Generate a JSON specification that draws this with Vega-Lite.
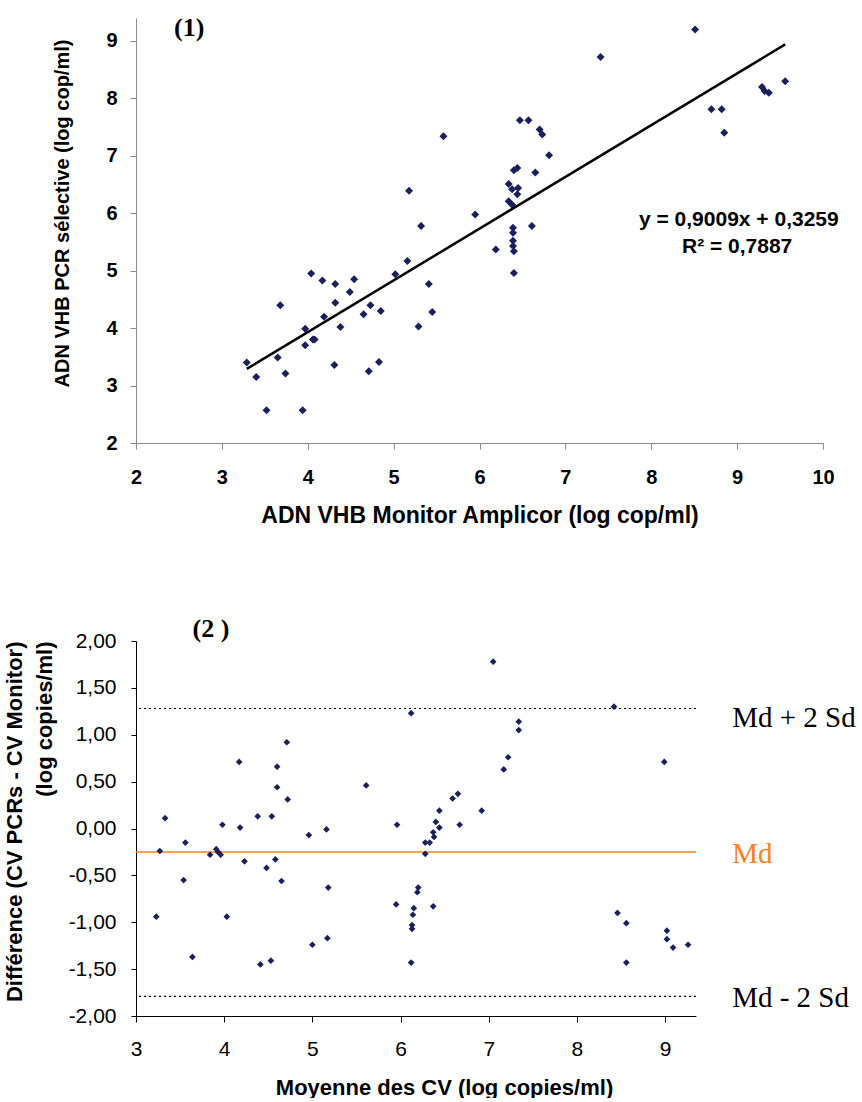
{
  "$schema": "https://vega.github.io/schema/vega-lite/v6.json",
  "background": "white",
  "padding": {"left": 3, "top": 14, "right": 0, "bottom": 0},
  "spacing": 88,
  "config": {
    "view": {"stroke": null},
    "axis": {"grid": false, "labelColor": "black", "titleColor": "black", "labelFont": "Liberation Sans", "titleFont": "Liberation Sans", "labelOverlap": false, "labelBound": false}
  },
  "datasets": {
    "corr": [
      {"x": 3.29, "y": 3.40}, {"x": 3.40, "y": 3.15}, {"x": 3.52, "y": 2.57}, {"x": 3.68, "y": 4.40}, {"x": 3.65, "y": 3.49},
      {"x": 3.74, "y": 3.21}, {"x": 3.94, "y": 2.57}, {"x": 3.97, "y": 3.99}, {"x": 3.97, "y": 3.70}, {"x": 4.04, "y": 4.95},
      {"x": 4.06, "y": 3.80}, {"x": 4.08, "y": 3.80}, {"x": 4.17, "y": 4.83}, {"x": 4.19, "y": 4.20}, {"x": 4.31, "y": 3.36},
      {"x": 4.32, "y": 4.77}, {"x": 4.32, "y": 4.44}, {"x": 4.38, "y": 4.02}, {"x": 4.49, "y": 4.63}, {"x": 4.54, "y": 4.85},
      {"x": 4.65, "y": 4.24}, {"x": 4.71, "y": 3.25}, {"x": 4.73, "y": 4.40}, {"x": 4.83, "y": 3.41}, {"x": 4.85, "y": 4.30},
      {"x": 5.02, "y": 4.94}, {"x": 5.16, "y": 5.17}, {"x": 5.18, "y": 6.39}, {"x": 5.32, "y": 5.78}, {"x": 5.29, "y": 4.03},
      {"x": 5.41, "y": 4.77}, {"x": 5.45, "y": 4.28}, {"x": 5.58, "y": 7.34}, {"x": 5.95, "y": 5.98}, {"x": 6.19, "y": 5.37},
      {"x": 6.40, "y": 4.96}, {"x": 6.39, "y": 5.75}, {"x": 6.39, "y": 5.66}, {"x": 6.39, "y": 5.52}, {"x": 6.39, "y": 5.43},
      {"x": 6.40, "y": 5.34}, {"x": 6.61, "y": 5.78}, {"x": 6.34, "y": 6.51}, {"x": 6.38, "y": 6.42}, {"x": 6.45, "y": 6.44},
      {"x": 6.44, "y": 6.33}, {"x": 6.34, "y": 6.21}, {"x": 6.38, "y": 6.15}, {"x": 6.40, "y": 6.75}, {"x": 6.44, "y": 6.79},
      {"x": 6.65, "y": 6.71}, {"x": 6.47, "y": 7.62}, {"x": 6.57, "y": 7.62}, {"x": 6.70, "y": 7.46}, {"x": 6.73, "y": 7.37},
      {"x": 6.81, "y": 7.01}, {"x": 7.41, "y": 8.72}, {"x": 8.51, "y": 9.20}, {"x": 8.70, "y": 7.81}, {"x": 8.82, "y": 7.81},
      {"x": 8.85, "y": 7.40}, {"x": 9.29, "y": 8.20}, {"x": 9.32, "y": 8.13}, {"x": 9.37, "y": 8.10}, {"x": 9.56, "y": 8.30}
    ],
    "fit": [{"x": 3.29, "y": 3.29}, {"x": 9.56, "y": 8.94}],
    "diff": [
      {"x": 3.23, "y": -0.94}, {"x": 3.27, "y": -0.24}, {"x": 3.33, "y": 0.11}, {"x": 3.54, "y": -0.55}, {"x": 3.56, "y": -0.15},
      {"x": 3.64, "y": -1.37}, {"x": 3.84, "y": -0.28}, {"x": 3.91, "y": -0.22}, {"x": 3.93, "y": -0.25}, {"x": 3.96, "y": -0.28},
      {"x": 3.98, "y": 0.04}, {"x": 4.03, "y": -0.94}, {"x": 4.17, "y": 0.71}, {"x": 4.18, "y": 0.01}, {"x": 4.23, "y": -0.35},
      {"x": 4.38, "y": 0.13}, {"x": 4.41, "y": -1.45}, {"x": 4.48, "y": -0.42}, {"x": 4.53, "y": -1.41}, {"x": 4.54, "y": 0.13},
      {"x": 4.58, "y": -0.33}, {"x": 4.60, "y": 0.66}, {"x": 4.60, "y": 0.44}, {"x": 4.65, "y": -0.56}, {"x": 4.71, "y": 0.92},
      {"x": 4.72, "y": 0.31}, {"x": 4.96, "y": -0.07}, {"x": 5.00, "y": -1.24}, {"x": 5.16, "y": -0.01}, {"x": 5.17, "y": -1.17},
      {"x": 5.18, "y": -0.63}, {"x": 5.61, "y": 0.46}, {"x": 5.95, "y": -0.81}, {"x": 5.96, "y": 0.04}, {"x": 6.12, "y": 1.23},
      {"x": 6.12, "y": -1.43}, {"x": 6.13, "y": -1.03}, {"x": 6.13, "y": -1.07}, {"x": 6.14, "y": -0.92}, {"x": 6.15, "y": -0.85},
      {"x": 6.19, "y": -0.68}, {"x": 6.20, "y": -0.63}, {"x": 6.28, "y": -0.27}, {"x": 6.28, "y": -0.15}, {"x": 6.33, "y": -0.15},
      {"x": 6.37, "y": -0.83}, {"x": 6.37, "y": -0.04}, {"x": 6.38, "y": -0.09}, {"x": 6.40, "y": 0.07}, {"x": 6.44, "y": 0.19},
      {"x": 6.44, "y": 0.01}, {"x": 6.59, "y": 0.32}, {"x": 6.65, "y": 0.37}, {"x": 6.67, "y": 0.04}, {"x": 6.92, "y": 0.19},
      {"x": 7.05, "y": 1.78}, {"x": 7.17, "y": 0.63}, {"x": 7.22, "y": 0.76}, {"x": 7.34, "y": 1.14}, {"x": 7.34, "y": 1.05},
      {"x": 8.42, "y": 1.30}, {"x": 8.46, "y": -0.90}, {"x": 8.56, "y": -1.01}, {"x": 8.56, "y": -1.43}, {"x": 8.99, "y": 0.71},
      {"x": 9.02, "y": -1.09}, {"x": 9.02, "y": -1.18}, {"x": 9.09, "y": -1.27}, {"x": 9.26, "y": -1.24}
    ],
    "limits": [
      {"label": "Md + 2 Sd", "value": 1.28},
      {"label": "Md", "value": -0.25},
      {"label": "Md - 2 Sd", "value": -1.79}
    ]
  },
  "vconcat": [
    {
      "width": 687,
      "height": 425,
      "layer": [
        {
          "data": {"name": "corr"},
          "mark": {"type": "point", "shape": "diamond", "filled": true, "size": 64, "color": "#1b1f5c", "opacity": 1},
          "encoding": {
            "x": {
              "field": "x", "type": "quantitative",
              "scale": {"domain": [2, 10], "nice": false, "zero": false},
              "axis": {
                "title": "ADN VHB Monitor Amplicor (log cop/ml)",
                "values": [2, 3, 4, 5, 6, 7, 8, 9, 10], "format": "d", "labelFlush": false,
                "labelFontSize": 20, "labelFontWeight": "bold", "labelPadding": 18, "tickSize": 6,
                "titleFontSize": 23, "titleFontWeight": "bold", "titlePadding": 17,
                "domainColor": "#8a8a8a", "tickColor": "#8a8a8a"
              }
            },
            "y": {
              "field": "y", "type": "quantitative",
              "scale": {"domain": [2, 9.4], "nice": false, "zero": false},
              "axis": {
                "title": "ADN VHB PCR sélective (log cop/ml)",
                "values": [2, 3, 4, 5, 6, 7, 8, 9], "format": "d",
                "labelFontSize": 20, "labelFontWeight": "bold", "labelPadding": 13, "tickSize": 6,
                "titleFontSize": 20, "titleFontWeight": "bold", "titlePadding": 33, "titleY": 195,
                "domainColor": "#8a8a8a", "tickColor": "#8a8a8a"
              }
            }
          }
        },
        {
          "data": {"name": "fit"},
          "mark": {"type": "line", "color": "black", "strokeWidth": 2.5},
          "encoding": {
            "x": {"field": "x", "type": "quantitative"},
            "y": {"field": "y", "type": "quantitative"}
          }
        },
        {
          "data": {"values": [{"k": 1}]},
          "mark": {"type": "text", "font": "Liberation Serif", "fontWeight": "bold", "fontSize": 26, "align": "center", "baseline": "middle", "color": "black"},
          "encoding": {"x": {"datum": 2.62}, "y": {"datum": 9.23}, "text": {"value": "(1)"}}
        },
        {
          "data": {"values": [{"k": 1}]},
          "mark": {"type": "text", "font": "Liberation Sans", "fontWeight": "bold", "fontSize": 21, "align": "center", "baseline": "middle", "color": "black"},
          "encoding": {"x": {"datum": 9.02}, "y": {"datum": 5.88}, "text": {"value": "y = 0,9009x + 0,3259"}}
        },
        {
          "data": {"values": [{"k": 1}]},
          "mark": {"type": "text", "font": "Liberation Sans", "fontWeight": "bold", "fontSize": 21, "align": "center", "baseline": "middle", "color": "black"},
          "encoding": {"x": {"datum": 9.0}, "y": {"datum": 5.41}, "text": {"value": "R² = 0,7887"}}
        }
      ]
    },
    {
      "width": 560,
      "height": 375,
      "layer": [
        {
          "data": {"name": "limits"},
          "transform": [{"filter": "datum.label !== 'Md'"}],
          "mark": {"type": "rule", "color": "black", "strokeWidth": 1.2, "strokeDash": [2, 3]},
          "encoding": {"y": {"field": "value", "type": "quantitative"}}
        },
        {
          "data": {"name": "limits"},
          "transform": [{"filter": "datum.label === 'Md'"}],
          "mark": {"type": "rule", "color": "#f58220", "strokeWidth": 1.6},
          "encoding": {"y": {"field": "value", "type": "quantitative"}}
        },
        {
          "data": {"name": "diff"},
          "mark": {"type": "point", "shape": "diamond", "filled": true, "size": 45, "color": "#1b1f5c", "opacity": 1},
          "encoding": {
            "x": {
              "field": "x", "type": "quantitative",
              "scale": {"domain": [3, 9.35], "nice": false, "zero": false},
              "axis": {
                "title": "Moyenne des CV (log copies/ml)",
                "values": [3, 4, 5, 6, 7, 8, 9], "format": "d", "labelFlush": false,
                "labelFontSize": 21, "labelPadding": 16, "tickSize": 6,
                "titleFontSize": 22, "titleFontWeight": "bold", "titlePadding": 18, "titleX": 308,
                "domainColor": "black", "tickColor": "black"
              }
            },
            "y": {
              "field": "y", "type": "quantitative",
              "scale": {"domain": [-2, 2], "nice": false, "zero": false},
              "axis": {
                "title": ["Différence (CV PCRs - CV Monitor)", "(log copies/ml)"],
                "values": [-2, -1.5, -1, -0.5, 0, 0.5, 1, 1.5, 2],
                "labelExpr": "replace(replace(format(datum.value, '.2f'), '.', ','), '−', '-')",
                "labelFontSize": 21, "labelPadding": 15, "tickSize": 5,
                "titleFontSize": 22, "titleFontWeight": "bold", "titleLineHeight": 30, "titlePadding": 12, "titleAnchor": "end",
                "domainColor": "black", "tickColor": "black"
              }
            }
          }
        },
        {
          "data": {"values": [{"k": 1}]},
          "mark": {"type": "text", "font": "Liberation Serif", "fontWeight": "bold", "fontSize": 26, "align": "center", "baseline": "middle", "color": "black"},
          "encoding": {"x": {"datum": 3.85}, "y": {"datum": 2.13}, "text": {"value": "(2 )"}}
        },
        {
          "data": {"name": "limits"},
          "transform": [{"filter": "datum.label === 'Md + 2 Sd'"}],
          "mark": {"type": "text", "font": "Liberation Serif", "fontSize": 29, "align": "left", "baseline": "middle", "dy": 9, "color": "black"},
          "encoding": {"x": {"datum": 9.76}, "y": {"field": "value", "type": "quantitative"}, "text": {"field": "label"}}
        },
        {
          "data": {"name": "limits"},
          "transform": [{"filter": "datum.label !== 'Md + 2 Sd'"}],
          "mark": {"type": "text", "font": "Liberation Serif", "fontSize": 29, "align": "left", "baseline": "middle", "dy": 2},
          "encoding": {
            "x": {"datum": 9.76},
            "y": {"field": "value", "type": "quantitative"},
            "text": {"field": "label"},
            "color": {"condition": {"test": "datum.label === 'Md'", "value": "#f58220"}, "value": "black"}
          }
        }
      ]
    }
  ]
}
